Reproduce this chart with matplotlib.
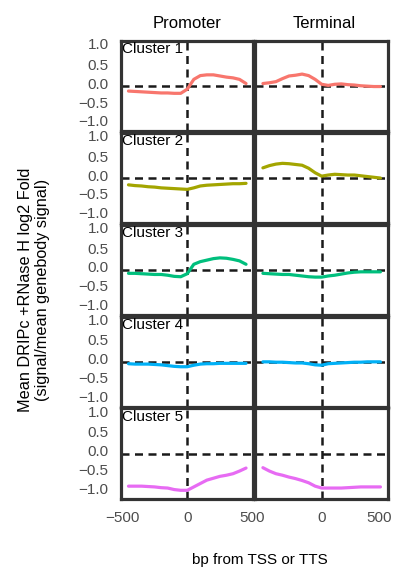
import matplotlib
matplotlib.use("Agg")
import matplotlib.pyplot as plt
from matplotlib.transforms import ScaledTranslation

plt.rcParams['font.family'] = ['Liberation Sans', 'DejaVu Sans']

# positions (bp) relative to TSS / TTS
bp = [-450, -400, -350, -300, -250, -200, -150, -100, -50, 0,
      50, 100, 150, 200, 250, 300, 350, 400, 450]

clusters = ['Cluster 1', 'Cluster 2', 'Cluster 3', 'Cluster 4', 'Cluster 5']
colors = ['#F8766D', '#A3A500', '#00BF7D', '#00B0F6', '#E76BF3']

promoter = [
    [-0.13, -0.14, -0.15, -0.16, -0.17, -0.18, -0.18, -0.19, -0.19, -0.08,
     0.18, 0.28, 0.30, 0.30, 0.27, 0.24, 0.22, 0.18, 0.07],
    [-0.18, -0.20, -0.21, -0.23, -0.24, -0.26, -0.27, -0.28, -0.29, -0.30,
     -0.26, -0.21, -0.19, -0.18, -0.17, -0.16, -0.15, -0.15, -0.14],
    [-0.09, -0.09, -0.10, -0.11, -0.12, -0.12, -0.14, -0.17, -0.18, -0.10,
     0.15, 0.22, 0.26, 0.30, 0.32, 0.31, 0.28, 0.24, 0.15],
    [-0.05, -0.06, -0.06, -0.06, -0.07, -0.08, -0.10, -0.12, -0.13, -0.13,
     -0.09, -0.06, -0.05, -0.05, -0.04, -0.04, -0.04, -0.04, -0.04],
    [-0.86, -0.86, -0.86, -0.87, -0.88, -0.90, -0.91, -0.95, -0.97, -0.97,
     -0.88, -0.79, -0.70, -0.65, -0.60, -0.57, -0.53, -0.46, -0.38],
]

terminal = [
    [0.07, 0.09, 0.12, 0.20, 0.27, 0.29, 0.32, 0.28, 0.18, 0.05,
     0.02, 0.05, 0.06, 0.04, 0.03, 0.01, 0.00, -0.01, -0.01],
    [0.27, 0.33, 0.37, 0.39, 0.38, 0.36, 0.34, 0.26, 0.14, 0.05,
     0.08, 0.10, 0.09, 0.08, 0.08, 0.06, 0.04, 0.02, 0.00],
    [-0.09, -0.10, -0.11, -0.12, -0.12, -0.14, -0.16, -0.18, -0.19, -0.19,
     -0.16, -0.14, -0.11, -0.08, -0.06, -0.05, -0.05, -0.05, -0.05],
    [0.00, 0.00, -0.01, -0.01, -0.02, -0.03, -0.03, -0.05, -0.08, -0.09,
     -0.05, -0.04, -0.03, -0.02, -0.01, -0.01, 0.00, 0.00, 0.00],
    [-0.37, -0.46, -0.53, -0.57, -0.62, -0.66, -0.71, -0.77, -0.86, -0.91,
     -0.91, -0.91, -0.91, -0.90, -0.89, -0.88, -0.88, -0.88, -0.88],
]

yticks = [-1.0, -0.5, 0.0, 0.5, 1.0]
ytick_labels = ['\u22121.0', '\u22120.5', '0.0', '0.5', '1.0']

fig, axes = plt.subplots(5, 2, figsize=(3.93, 5.68), dpi=100)
fig.subplots_adjust(left=0.308, right=0.987, top=0.928, bottom=0.1215,
                    wspace=0.015, hspace=0.015)

frame = '#333333'
tick_col = '#4d4d4d'
px = 1 / 100  # one pixel in inches

for i in range(5):
    for j, series in enumerate([promoter, terminal]):
        ax = axes[i, j]
        ax.axhline(0, color='#1a1a1a', lw=1.8, dashes=(3.2, 2.2), zorder=1)
        ax.axvline(0, color='#1a1a1a', lw=1.8, dashes=(3.2, 2.2), zorder=1)
        ax.plot(bp, series[i], color=colors[i], lw=2.3, zorder=2,
                solid_capstyle='round')
        ax.set_xlim(-507, 507)
        ax.set_ylim(-1.2, 1.2)
        for s in ax.spines.values():
            s.set_color(frame)
            s.set_linewidth(2.3)
        ax.tick_params(length=0, labelsize=11, colors=tick_col, pad=9)
        ax.set_yticks(yticks)
        if j == 0:
            ax.set_yticklabels(ytick_labels)
            # labels sit a little above their ticks in the original
            for k, lab in enumerate(ax.get_yticklabels()):
                up = 5 if k == 4 else 3
                lab.set_transform(lab.get_transform() +
                                  ScaledTranslation(0, up * px,
                                                    fig.dpi_scale_trans))
            ax.text(0.005, 0.985, clusters[i], transform=ax.transAxes,
                    ha='left', va='top', fontsize=11, color='black')
        else:
            ax.set_yticklabels([])
        if i == 4:
            if j == 0:
                ax.set_xticks([-500, 0, 500])
                ax.set_xticklabels(['\u2212500', '0', '500'])
            else:
                ax.set_xticks([0, 500])
                ax.set_xticklabels(['0', '500'])
                lab = ax.get_xticklabels()[1]
                lab.set_transform(lab.get_transform() +
                                  ScaledTranslation(-8 * px, 0,
                                                    fig.dpi_scale_trans))
        else:
            ax.set_xticks([])

fig.text(187 / 393, 1 - 23 / 568, 'Promoter', ha='center', va='center',
         fontsize=12)
fig.text(324 / 393, 1 - 23 / 568, 'Terminal', ha='center', va='center',
         fontsize=12)
fig.text(260 / 393, 1 - 560 / 568, 'bp from TSS or TTS', ha='center',
         va='center', fontsize=11)
fig.text(34 / 393, 1 - 290 / 568,
         'Mean DRIPc +RNase H log2 Fold\n(signal/mean genebody signal)',
         ha='center', va='center', rotation=90, fontsize=11.7,
         linespacing=1.2)

fig.savefig('out.png', dpi=100)
